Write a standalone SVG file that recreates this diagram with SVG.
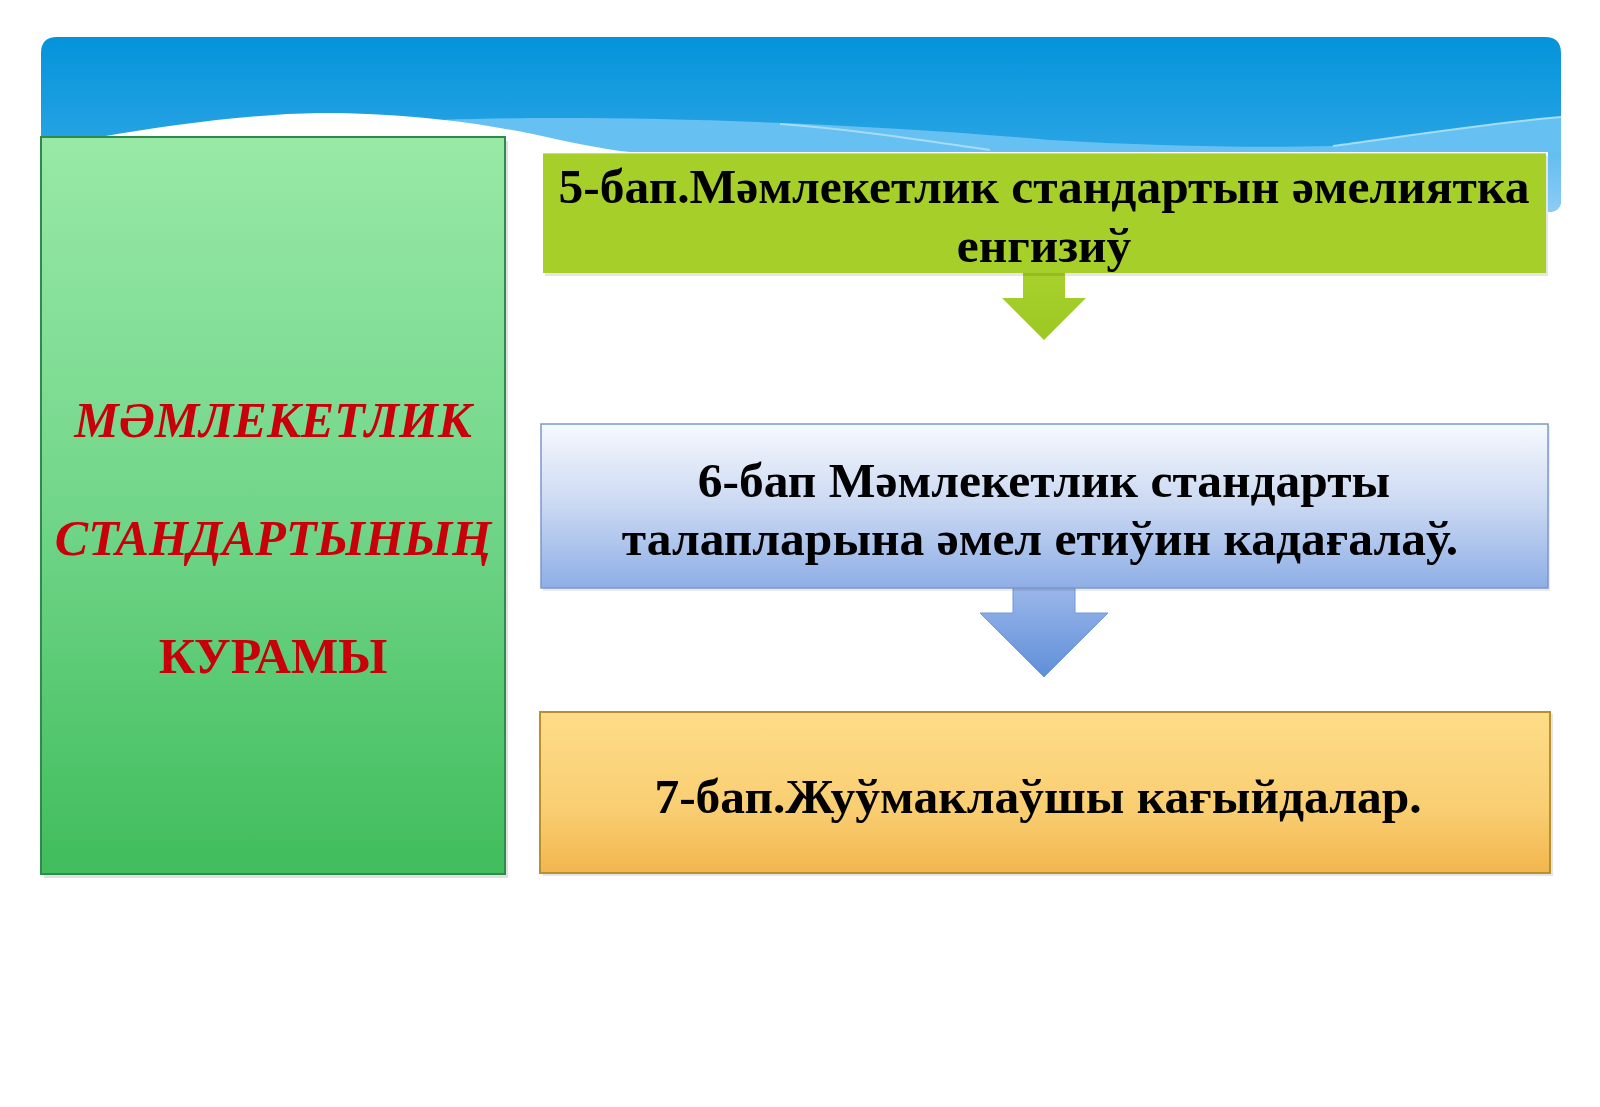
<svg xmlns="http://www.w3.org/2000/svg" width="1600" height="1107" viewBox="0 0 1600 1107">
<style>
.t{font-family:"Liberation Serif","Times New Roman",serif;font-weight:bold;fill:#000;text-anchor:middle;font-size:49.5px}
.r{font-family:"Liberation Serif","Times New Roman",serif;font-weight:bold;fill:#c8000a;text-anchor:middle;font-size:50px}
</style>
<defs>
<linearGradient id="gSky" x1="0" y1="0" x2="0" y2="1">
<stop offset="0" stop-color="#0493da"/>
<stop offset="1" stop-color="#3eaeea"/>
</linearGradient>
<linearGradient id="gLeft" x1="0" y1="0" x2="0" y2="1">
<stop offset="0" stop-color="#98e9a6"/>
<stop offset="0.5" stop-color="#72d68a"/>
<stop offset="1" stop-color="#40bd5c"/>
</linearGradient>
<linearGradient id="gBlue" x1="0" y1="0" x2="0" y2="1">
<stop offset="0" stop-color="#f7f9fd"/>
<stop offset="0.5" stop-color="#c9d8f2"/>
<stop offset="1" stop-color="#8eaee6"/>
</linearGradient>
<linearGradient id="gGold" x1="0" y1="0" x2="0" y2="1">
<stop offset="0" stop-color="#fedc88"/>
<stop offset="0.6" stop-color="#f9ce72"/>
<stop offset="1" stop-color="#f2b64e"/>
</linearGradient>
<linearGradient id="gArB" x1="0" y1="0" x2="0" y2="1">
<stop offset="0" stop-color="#9ab6ea"/>
<stop offset="1" stop-color="#5f8fd8"/>
</linearGradient>
<linearGradient id="gArG" x1="0" y1="0" x2="0" y2="1">
<stop offset="0" stop-color="#a8d12c"/>
<stop offset="1" stop-color="#9cc823"/>
</linearGradient>
<linearGradient id="gStrip" x1="0" y1="0" x2="0" y2="1">
<stop offset="0" stop-color="#4ab5ee"/>
<stop offset="1" stop-color="#8cccf4"/>
</linearGradient>
</defs>

<rect width="1600" height="1107" fill="#ffffff"/>

<g id="header">
<path d="M41,53 Q41,37 57,37 H1545 Q1561,37 1561,53 V200 Q1561,212 1548,212 V152 H41 Z" fill="url(#gSky)"/>
<path d="M1548,120 L1561,118 V200 Q1561,212 1548,212 Z" fill="url(#gStrip)"/>
<path d="M440,120 C600,114 850,122 1050,140 C1150,146 1250,148 1333,146 C1420,134 1500,122 1561,117 V152 H580 Z" fill="#66c0f1"/>
<path d="M1333,146 C1420,134 1500,122 1561,117" fill="none" stroke="#a6dcf8" stroke-width="2"/>
<path d="M780,124 C860,130 920,140 990,150" fill="none" stroke="#a6dcf8" stroke-width="2"/>
<path d="M100,137 C170,125 250,114 320,113 C420,113 500,126 560,140 C590,146 610,150 630,152 H41 V137 Z" fill="#ffffff"/>
<rect x="505" y="137" width="38" height="16" fill="#ffffff"/>
</g>

<g id="connectors">
<path d="M1023,273 H1065 V298 H1086 L1044,340 L1002,298 H1023 Z" fill="url(#gArG)"/>
<path d="M1013,588 H1075 V613 H1108 L1044,677 L980,613 H1013 Z" fill="url(#gArB)" stroke="#6f98d8" stroke-width="1"/>
</g>

<g id="left-box">
<rect x="44" y="141" width="464" height="737" fill="#000" opacity="0.12"/>
<rect x="41" y="137" width="464" height="737" fill="url(#gLeft)" stroke="#2f8a4c" stroke-width="2"/>
<text class="r" x="273" y="437" font-style="italic">МӘМЛЕКЕТЛИК</text>
<text class="r" x="273" y="555" font-style="italic">СТАНДАРТЫНЫҢ</text>
<text class="r" x="273" y="673">КУРАМЫ</text>
</g>

<g id="box5">
<rect x="545" y="156" width="1003" height="120" fill="#000" opacity="0.1"/>
<rect x="543" y="153" width="1003" height="120" fill="#a7cf2a"/>
<line x1="543" y1="153.5" x2="1546" y2="153.5" stroke="#c6e26e" stroke-width="1"/>
<text class="t" x="1044" y="203">5-бап.Мәмлекетлик стандартын әмелиятка</text>
<text class="t" x="1044" y="262">енгизиў</text>
</g>

<g id="box6">
<rect x="543" y="426" width="1007" height="165" fill="#000" opacity="0.08"/>
<rect x="541" y="424" width="1007" height="164" fill="url(#gBlue)" stroke="#7b98cc" stroke-width="1.5"/>
<text class="t" x="1044" y="497">6-бап Мәмлекетлик стандарты</text>
<text class="t" x="1040" y="555">талапларына әмел етиўин кадағалаў.</text>
</g>

<g id="box7">
<rect x="543" y="714" width="1010" height="162" fill="#000" opacity="0.1"/>
<rect x="540" y="712" width="1010" height="161" fill="url(#gGold)" stroke="#b8912e" stroke-width="2"/>
<text class="t" x="1038" y="813">7-бап.Жуўмаклаўшы кағыйдалар.</text>
</g>
</svg>
